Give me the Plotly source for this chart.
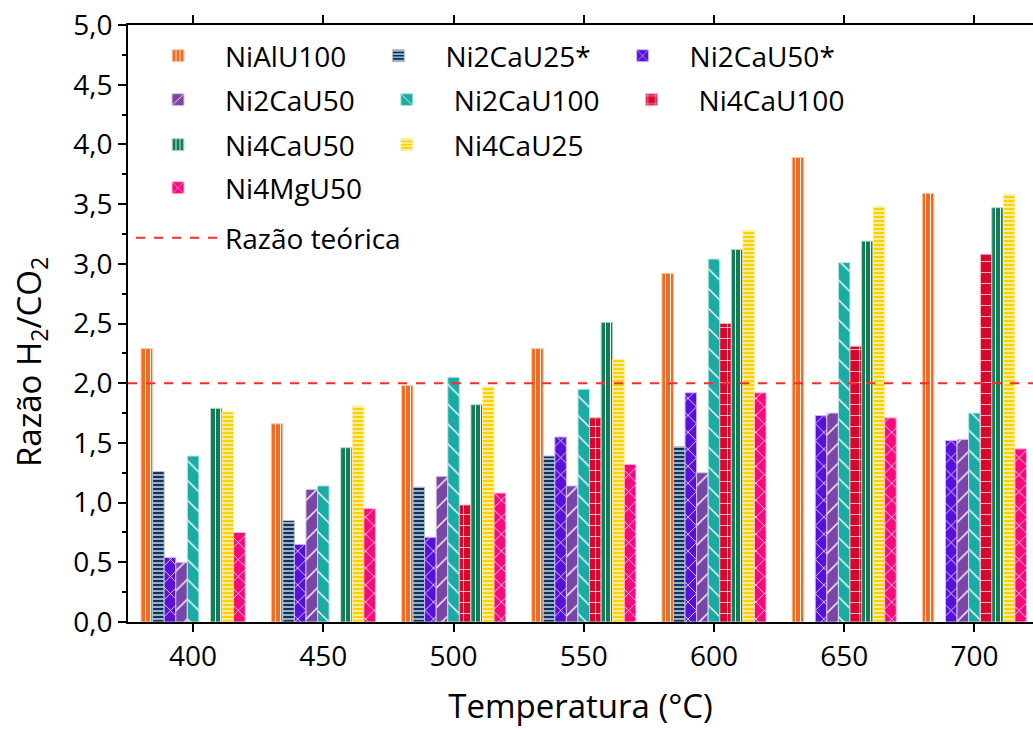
import plotly.graph_objects as go

temperatures = [400, 450, 500, 550, 600, 650, 700]

series_names = ["NiAlU100", "Ni2CaU25*", "Ni2CaU50*", "Ni2CaU50", "Ni2CaU100",
                "Ni4CaU100", "Ni4CaU50", "Ni4CaU25", "Ni4MgU50"]

NiAlU100 = [2.29, 1.66, 1.98, 2.29, 2.92, 3.89, 3.59]
Ni2CaU25s = [1.26, 0.85, 1.13, 1.39, 1.47, None, None]
Ni2CaU50s = [0.54, 0.65, 0.71, 1.55, 1.92, 1.73, 1.52]
Ni2CaU50 = [0.50, 1.11, 1.22, 1.14, 1.25, 1.75, 1.53]
Ni2CaU100 = [1.39, 1.14, 2.05, 1.95, 3.04, 3.01, 1.75]
Ni4CaU100 = [None, None, 0.98, 1.71, 2.50, 2.31, 3.08]
Ni4CaU50 = [1.79, 1.46, 1.82, 2.51, 3.12, 3.19, 3.47]
Ni4CaU25 = [1.76, 1.81, 1.97, 2.20, 3.28, 3.48, 3.58]
Ni4MgU50 = [0.75, 0.95, 1.08, 1.32, 1.92, 1.71, 1.45]

theoretical_ratio = 2.0
theoretical_name = "Razão teórica"

x_title = "Temperatura (°C)"
y_title = "Razão H<sub>2</sub>/CO<sub>2</sub>"

values = [NiAlU100, Ni2CaU25s, Ni2CaU50s, Ni2CaU50, Ni2CaU100,
          Ni4CaU100, Ni4CaU50, Ni4CaU25, Ni4MgU50]

colors = ["#F26B21", "#0A3563", "#5A10DA", "#7A45A6", "#1AABA4",
          "#D8072E", "#117D56", "#F9D200", "#F80A7D"]
borders = ["#FBC9AE", "#B9C3D0", "#CDB8F4", "#D6C6E4", "#BCE6E3",
           "#F3B4C0", "#B8D9CC", "#FDF0A6", "#FDB6D8"]
shapes_ = ["|", "-", "x", "/", "\\", "+", "|", "-", "x"]
sizes = [5, 4, 12, 14, 14, 11, 5, 4, 12]
solid = [0.2, 0.3, 0.12, 0.1, 0.1, 0.12, 0.2, 0.3, 0.12]
legend_of = ["legend", "legend", "legend", "legend2", "legend2", "legend2",
             "legend3", "legend3", "legend4"]

FONT = "Open Sans"

fig = go.Figure()
for i, name in enumerate(series_names):
    fig.add_trace(go.Bar(
        x=temperatures, y=values[i], name=name,
        marker=dict(color=colors[i],
                    line=dict(color=borders[i], width=1),
                    pattern=dict(shape=shapes_[i], fgcolor="white",
                                 bgcolor=colors[i], size=sizes[i],
                                 solidity=solid[i], fillmode="replace")),
        legend=legend_of[i],
    ))

fig.add_hline(y=theoretical_ratio, line=dict(color="#FF2A2A", width=2, dash="dash"),
              showlegend=True, name=theoretical_name, legend="legend5",
              layer="above")

left, top, bottom, W, H = 128, 25, 107, 1033, 729
plot_h = H - top - bottom
plot_w = W - left


def ypaper(py):
    return (H - bottom - py) / plot_h


def xpaper(px):
    return (px - left) / plot_w


legend_common = dict(orientation="h", xanchor="left", yanchor="middle",
                     font=dict(family=FONT, size=28, color="black"),
                     itemwidth=84, bgcolor="rgba(0,0,0,0)", x=xpaper(131))

fig.update_layout(
    width=W, height=H,
    margin=dict(l=left, r=0, t=top, b=bottom),
    paper_bgcolor="white", plot_bgcolor="white",
    barmode="group", bargap=0.2, bargroupgap=0,
    separators=", ",
    font=dict(family=FONT, size=28, color="black"),
    legend=dict(legend_common, y=ypaper(56)),
    legend2=dict(legend_common, y=ypaper(100)),
    legend3=dict(legend_common, y=ypaper(145)),
    legend4=dict(legend_common, y=ypaper(188)),
    legend5=dict(legend_common, y=ypaper(238)),
)

fig.add_annotation(text=y_title, textangle=-90, xref="paper", yref="paper",
                   x=xpaper(30), y=ypaper(362), xanchor="center", yanchor="middle",
                   showarrow=False, font=dict(family=FONT, size=33, color="black"))

fig.update_xaxes(
    range=[375, 722.5], tickvals=temperatures,
    ticks="outside", ticklen=8, tickwidth=2, tickcolor="black",
    showline=True, linewidth=2, linecolor="black", mirror="ticks",
    showgrid=False, zeroline=False,
    tickfont=dict(family=FONT, size=28),
    title=dict(text=x_title, font=dict(family=FONT, size=33), standoff=22),
)
fig.update_yaxes(
    range=[0, 5], dtick=0.5, tickformat=".1f",
    ticks="outside", ticklen=8, tickwidth=2, tickcolor="black",
    minor=dict(dtick=0.25, ticks="outside", ticklen=4, tickwidth=2, tickcolor="black"),
    showline=True, linewidth=2, linecolor="black", mirror=False,
    showgrid=False, zeroline=False,
    tickfont=dict(family=FONT, size=28),
)

fig.write_html("out.html")
